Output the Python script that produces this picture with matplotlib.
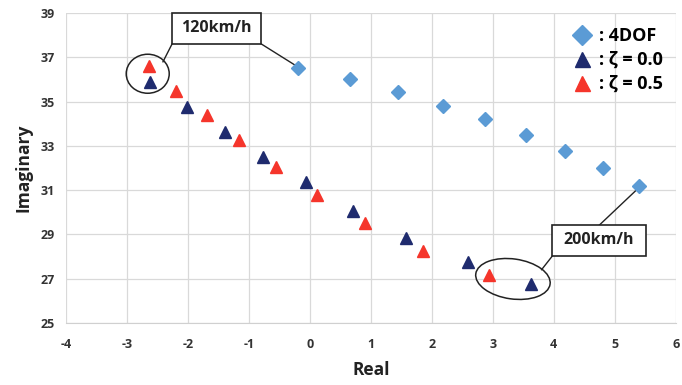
import matplotlib
matplotlib.use("Agg")
import matplotlib.pyplot as plt
from matplotlib.patches import Ellipse, Rectangle
from matplotlib.transforms import ScaledTranslation

plt.rcParams['font.family'] = ['Open Sans', 'DejaVu Sans']

# Data
dof4_real = [-0.20, 0.66, 1.44, 2.18, 2.87, 3.55, 4.19, 4.81, 5.40]
dof4_imag = [36.54, 36.02, 35.43, 34.81, 34.21, 33.50, 32.75, 32.00, 31.20]

z00_real = [-2.63, -2.02, -1.40, -0.77, -0.07, 0.70, 1.58, 2.59, 3.62]
z00_imag = [35.87, 34.78, 33.65, 32.50, 31.35, 30.08, 28.84, 27.75, 26.76]

z05_real = [-2.64, -2.19, -1.69, -1.16, -0.56, 0.11, 0.90, 1.86, 2.93]
z05_imag = [36.59, 35.50, 34.41, 33.25, 32.07, 30.80, 29.51, 28.26, 27.18]

xticks = [-4, -3, -2, -1, 0, 1, 2, 3, 4, 5, 6]
yticks = [25, 27, 29, 31, 33, 35, 37, 39]

c_blue = '#5B9BD5'
c_navy = '#1F2B6E'
c_red = '#F5352B'

fig = plt.figure(figsize=(6.82, 3.85), dpi=100)
ax = fig.add_axes([0.0968, 0.161, 0.894, 0.805])

ax.plot(dof4_real, dof4_imag, 'D', color=c_blue, ms=7.5, ls='none', label=': 4DOF', zorder=3)
ax.plot(z00_real, z00_imag, '^', color=c_navy, ms=8, ls='none', label=': ζ = 0.0', zorder=3)
ax.plot(z05_real, z05_imag, '^', color=c_red, ms=8, ls='none', label=': ζ = 0.5', zorder=3)

ax.set_xlim(-4, 6)
ax.set_ylim(25, 39)
ax.set_xticks(xticks)
ax.set_yticks(yticks)
ax.set_xticklabels([str(t) for t in xticks])
ax.set_yticklabels([str(t) for t in yticks])
ax.grid(True, color='#d9d9d9', lw=0.9)
ax.set_axisbelow(True)
for s in ['top', 'right', 'left']:
    ax.spines[s].set_visible(False)
ax.spines['bottom'].set_color('#d0d0d0')
ax.tick_params(length=0, labelsize=9, colors='#333333')
ax.tick_params(axis='x', pad=11)
ax.tick_params(axis='y', pad=8)
for lab in ax.get_xticklabels() + ax.get_yticklabels():
    lab.set_fontweight('bold')

ax.set_xlabel('Real', fontsize=12.5, fontweight='bold', color='#222222', labelpad=7)
ax.set_ylabel('Imaginary', fontsize=12.5, fontweight='bold', color='#222222', labelpad=6)

leg = ax.legend(loc='upper right', bbox_to_anchor=(1.0, 0.995), frameon=False,
                prop={'size': 13, 'weight': 'bold'}, handletextpad=0.3,
                labelspacing=0.32, borderaxespad=0.3, handlelength=1.3,
                markerscale=1.35)

# Annotations
def add_box(x0, y0, w, h, txt):
    r = Rectangle((x0, y0), w, h, fc='white', ec='#222222', lw=1.2, zorder=5,
                  clip_on=False)
    ax.add_patch(r)
    ax.text(x0 + w / 2, y0 + h / 2, txt, ha='center', va='center', fontsize=11.5,
            fontweight='bold', color='#222222', zorder=6, clip_on=False)

add_box(-2.26, 37.61, 1.46, 1.39, '120km/h')
add_box(3.97, 28.03, 1.54, 1.40, '200km/h')

ax.plot([-2.26, -2.41], [37.61, 36.80], color='#222222', lw=1)
ax.plot([-0.80, -0.25], [37.61, 36.66], color='#222222', lw=1)
ax.plot([3.98, 3.80], [28.04, 27.41], color='#222222', lw=1)
ax.plot([4.75, 5.36], [29.43, 31.02], color='#222222', lw=1)

def add_ellipse(cx, cy, w_in, h_in, angle):
    tr = fig.dpi_scale_trans + ScaledTranslation(cx, cy, ax.transData)
    e = Ellipse((0, 0), w_in, h_in, angle=angle, transform=tr,
                fill=False, ec='#222222', lw=1.1, zorder=4)
    ax.add_artist(e)

add_ellipse(-2.66, 36.26, 0.43, 0.39, 0)
add_ellipse(3.33, 26.99, 0.75, 0.40, -8)

fig.savefig('out.png', dpi=100)
